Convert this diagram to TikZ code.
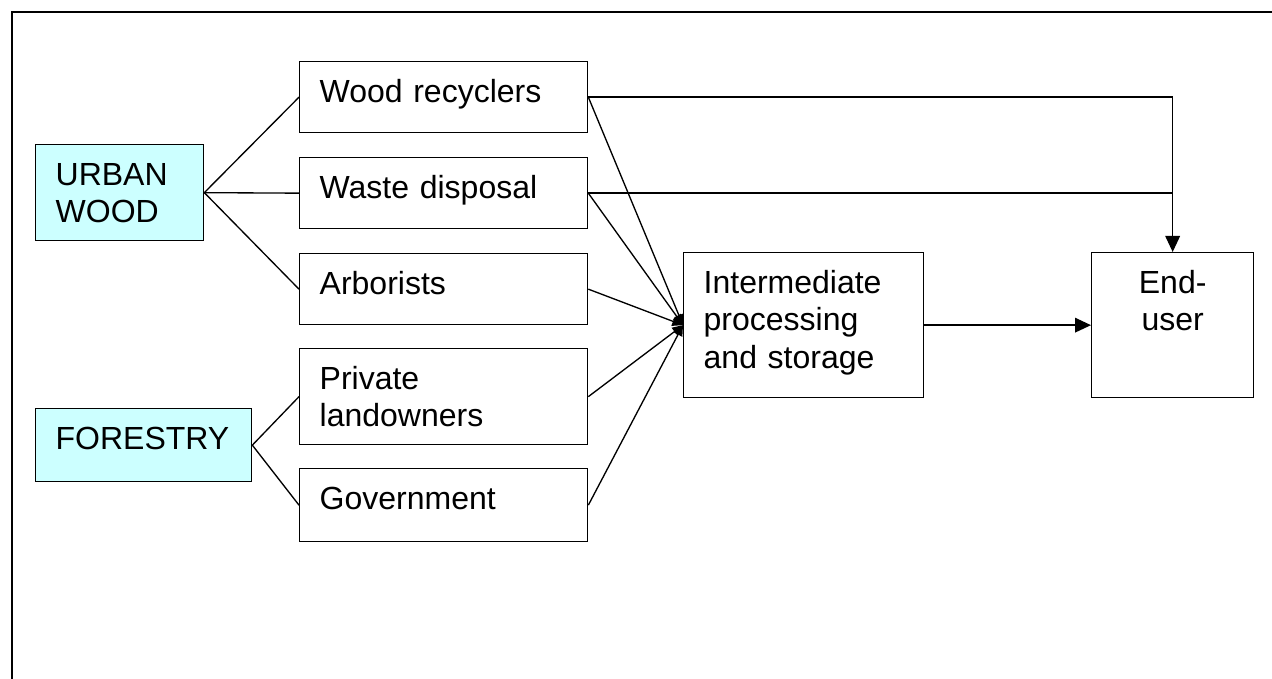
\documentclass[tikz,border=0pt]{standalone}
\usepackage{fontspec}
\setmainfont{Liberation Sans}
\usetikzlibrary{arrows.meta}

\definecolor{paleblue}{RGB}{204,255,255}

\begin{document}
\begin{tikzpicture}[x=0.375pt, y=-0.375pt,
        every node/.style={font=\fontsize{12}{14}\selectfont},
        box/.style={draw, line width=0.5pt, anchor=north west, inner xsep=7.5pt,
            inner ysep=0pt, text height=15.375pt, align=left},
        origin/.style={box, fill=paleblue},
        link/.style={line width=0.5pt},
        feed/.style={line width=0.5pt, -{Triangle[length=4pt,width=3.5pt]}},
        flow/.style={line width=0.5pt, -{Triangle[length=6pt,width=5.5pt]}}]
    \useasboundingbox (0,0) rectangle (1272,679);
    %\draw[lightgray] (0,0) grid[step=100] (1272,679);
    \draw[line width=0.75pt] (1272,12) -- (12,12) -- (12,679);

    % sources
    \node[origin, text width=48pt, text depth=20.625pt] (urban) at (35,144) {URBAN\\WOOD};
    \node[origin, text width=66pt, text depth=12pt] (forest) at (35,408) {FORESTRY};

    \node[box, text width=93pt, text depth=11.25pt] (recyc) at (299,61) {Wood recyclers};
    \node[box, text width=93pt, text depth=11.25pt] (waste) at (299,157) {Waste disposal};
    \node[box, text width=93pt, text depth=11.25pt] (arbor) at (299,253) {Arborists};
    \node[box, text width=93pt, text depth=20.625pt] (land) at (299,348) {Private\\landowners};
    \node[box, text width=93pt, text depth=12pt] (gov) at (299,468) {Government};

    \node[box, text width=75pt, text depth=39pt] (mid) at (683,252) {Intermediate\\processing\\and storage};
    \node[box, align=center, text width=45.75pt, text depth=39pt] (end) at (1091,252) {End-\\user};

    % urban wood and forestry
    \foreach \n in {recyc, waste, arbor}
        \draw[link] (urban.east) -- (\n.west);
    \foreach \n in {land, gov}
        \draw[link] (forest.east) -- (\n.west);

    % everything into processing
    \foreach \n in {recyc, waste, arbor, land, gov}
        \draw[feed] (\n.east) -- (mid.west);

    % straight to the end-user
    \draw[flow] (recyc.east) -| (end.north);
    \draw[link] (waste.east) -- (waste.east -| end.north);
    \draw[flow] (mid.east) -- (end.west);
\end{tikzpicture}
\end{document}
